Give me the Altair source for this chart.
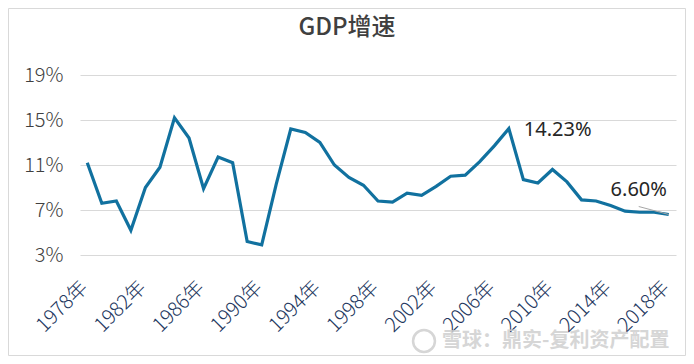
import altair as alt
import pandas as pd

years = list(range(1978, 2019))
growth = [11.2, 7.6, 7.8, 5.2, 9.0, 10.8, 15.2, 13.4, 8.9, 11.7, 11.2, 4.2, 3.9, 9.3,
          14.2, 13.9, 13.0, 11.0, 9.9, 9.2, 7.8, 7.7, 8.5, 8.3, 9.1, 10.0, 10.1, 11.3,
          12.7, 14.23, 9.7, 9.4, 10.6, 9.5, 7.9, 7.8, 7.4, 6.9, 6.8, 6.8, 6.6]
label_years = [2007, 2018]
label_values = [14.23, 6.60]
label_texts = ["14.23%", "6.60%"]
x_tick_years = list(range(1978, 2019, 4))
y_ticks = [3, 7, 11, 15, 19]

df = pd.DataFrame({"year": years, "growth": growth})
lab = pd.DataFrame({"year": label_years, "growth": label_values, "text": label_texts})

W, H = 596, 180

xscale = alt.Scale(domain=[1977.5, 2018.5], nice=False, zero=False)
yscale = alt.Scale(domain=[3, 19], nice=False, zero=False)

base = alt.Chart(df)

line = base.mark_line(color="#11719f", strokeWidth=3.2, strokeJoin="miter").encode(
    x=alt.X("year:Q", scale=xscale,
            axis=alt.Axis(values=x_tick_years, labelExpr="datum.value + '年'",
                          title=None, grid=False, domain=False, ticks=False,
                          labelAngle=-45, labelAlign="right", labelBaseline="middle",
                          labelPadding=29, labelOffset=-3, labelFontSize=20,
                          labelFont="Noto Sans CJK SC", labelFontWeight=300,
                          labelColor="#23375e", labelOverlap=False)),
    y=alt.Y("growth:Q", scale=yscale,
            axis=alt.Axis(values=y_ticks, labelExpr="datum.value + '%'",
                          title=None, grid=True, gridColor="#d9d9d9", gridWidth=1,
                          domain=False, ticks=False, labelPadding=17,
                          labelFontSize=20, labelFont="Noto Sans CJK SC",
                          labelFontWeight=300, labelColor="#404040")),
)

lab1 = alt.Chart(lab[lab.year == 2007]).mark_text(
    align="left", baseline="middle", dx=15, dy=1, fontSize=20,
    font="Noto Sans", color="#262626").encode(
    x=alt.X("year:Q", scale=xscale), y=alt.Y("growth:Q", scale=yscale), text="text:N")

lab2 = alt.Chart(lab[lab.year == 2018]).mark_text(
    align="center", baseline="middle", dx=-30, dy=-25, fontSize=20,
    font="Noto Sans", color="#262626").encode(
    x=alt.X("year:Q", scale=xscale), y=alt.Y("growth:Q", scale=yscale), text="text:N")

leader = alt.Chart(lab[lab.year == 2018]).mark_rule(
    color="#a6a6a6", strokeWidth=1, x2Offset=-30, y2Offset=-8).encode(
    x=alt.X("year:Q", scale=xscale), x2="year:Q",
    y=alt.Y("growth:Q", scale=yscale), y2="growth:Q")

one = pd.DataFrame({"t": ["GDP增速"]})
title = alt.Chart(one).mark_text(
    fontSize=24, font="Noto Sans CJK SC", color="#404040", fontWeight=500,
    align="center", baseline="middle").encode(
    x=alt.value(267), y=alt.value(-47), text="t:N")

wm = pd.DataFrame({"t": ["雪球：鼎实-复利资产配置"]})
watermark = alt.Chart(wm).mark_text(
    fontSize=20, font="Noto Sans CJK SC", color="#cfcfcf", fontWeight="bold",
    align="left", baseline="middle", opacity=0.85).encode(
    x=alt.value(362), y=alt.value(266), text="t:N")
icon = alt.Chart(wm).mark_point(
    shape="circle", size=480, color="#cfcfcf", strokeWidth=2.5, opacity=0.85).encode(
    x=alt.value(344), y=alt.value(266))

border = alt.Chart(one).mark_rect(
    fill=None, stroke="#d9d9d9", strokeWidth=1).encode(
    x=alt.value(-71.5), x2=alt.value(W + 9.5), y=alt.value(-66.5), y2=alt.value(H + 100.5))

chart = alt.layer(border, line, leader, lab1, lab2, title, watermark, icon).properties(
    width=W, height=H, autosize="none",
    padding={"left": 72, "top": 67, "right": 10, "bottom": 101},
    background="white",
).configure_view(stroke=None)

chart.save("out.html", embed_options={"renderer": "svg", "actions": False})
